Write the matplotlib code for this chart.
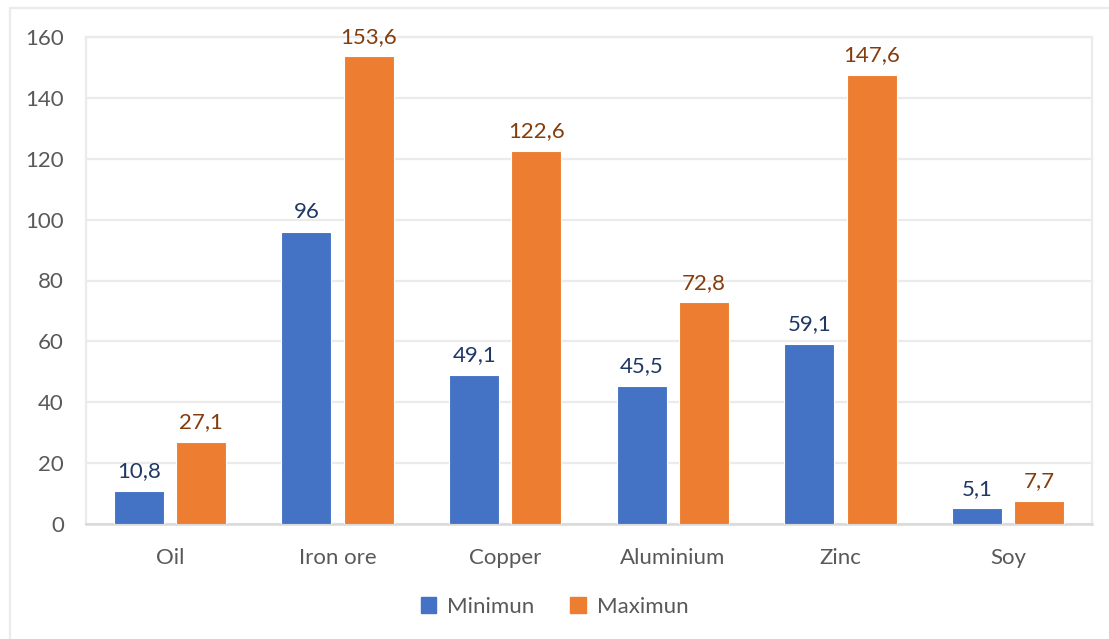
import numpy as np
import matplotlib.pyplot as plt
from matplotlib.lines import Line2D

categories = ["Oil", "Iron ore", "Copper", "Aluminium", "Zinc", "Soy"]
minimum = [10.8, 96, 49.1, 45.5, 59.1, 5.1]
maximum = [27.1, 153.6, 122.6, 72.8, 147.6, 7.7]
labels_min = ["10,8", "96", "49,1", "45,5", "59,1", "5,1"]
labels_max = ["27,1", "153,6", "122,6", "72,8", "147,6", "7,7"]
yticks = [0, 20, 40, 60, 80, 100, 120, 140, 160]

plt.rcParams["font.family"] = ["Lato", "DejaVu Sans"]

BLUE = "#4472C4"
ORANGE = "#ED7D31"
GRID = "#EBEBEB"
TEXT = "#595959"

fig = plt.figure(figsize=(11.09, 6.39), dpi=100)
ax = fig.add_axes([86 / 1109, 1 - 524 / 639, (1092 - 86) / 1109, (524 - 37) / 639])

x = np.arange(len(categories))
w = 0.298
off = 0.185
b1 = ax.bar(x - off, minimum, w, color=BLUE, edgecolor="white", linewidth=0.8, zorder=3)
b2 = ax.bar(x + off, maximum, w, color=ORANGE, edgecolor="white", linewidth=0.8, zorder=3)

for rect, txt in zip(b1, labels_min):
    ax.annotate(txt, (rect.get_x() + rect.get_width() / 2, rect.get_height()),
                xytext=(0, 7), textcoords="offset points", ha="center", va="bottom",
                fontsize=16, color="#203864")
for rect, txt in zip(b2, labels_max):
    ax.annotate(txt, (rect.get_x() + rect.get_width() / 2, rect.get_height()),
                xytext=(0, 7), textcoords="offset points", ha="center", va="bottom",
                fontsize=16, color="#843C0C")

ax.set_xlim(-0.5, len(categories) - 0.5)
ax.set_ylim(0, 160)
ax.set_yticks(yticks)
ax.set_xticks(x)
ax.set_xticklabels(categories)
ax.tick_params(axis="both", length=0, labelsize=16, colors=TEXT)
ax.tick_params(axis="y", pad=16)
ax.tick_params(axis="x", pad=17)
ax.grid(axis="y", color=GRID, linewidth=1.6, zorder=0)

for side in ["top", "left", "right"]:
    ax.spines[side].set_color(GRID)
    ax.spines[side].set_linewidth(1.6)
ax.spines["bottom"].set_color("#D9D9D9")
ax.spines["bottom"].set_linewidth(1.8)

handles = [plt.Rectangle((0, 0), 1, 1, color=BLUE), plt.Rectangle((0, 0), 1, 1, color=ORANGE)]
fig.legend(handles, ["Minimun", "Maximun"], loc="center", bbox_to_anchor=(0.5, 1 - 607 / 639),
           ncol=2, frameon=False, fontsize=16, labelcolor=TEXT, handlelength=0.7,
           handleheight=0.7, handletextpad=0.5, columnspacing=1.6)

# outer chart frame (top and left edges)
fig.add_artist(Line2D([10 / 1109, 1], [1 - 8 / 639, 1 - 8 / 639], transform=fig.transFigure,
                      color=GRID, linewidth=1.6))
fig.add_artist(Line2D([10 / 1109, 10 / 1109], [0, 1 - 8 / 639], transform=fig.transFigure,
                      color=GRID, linewidth=1.6))

fig.savefig("out.png", dpi=100, facecolor="white")
